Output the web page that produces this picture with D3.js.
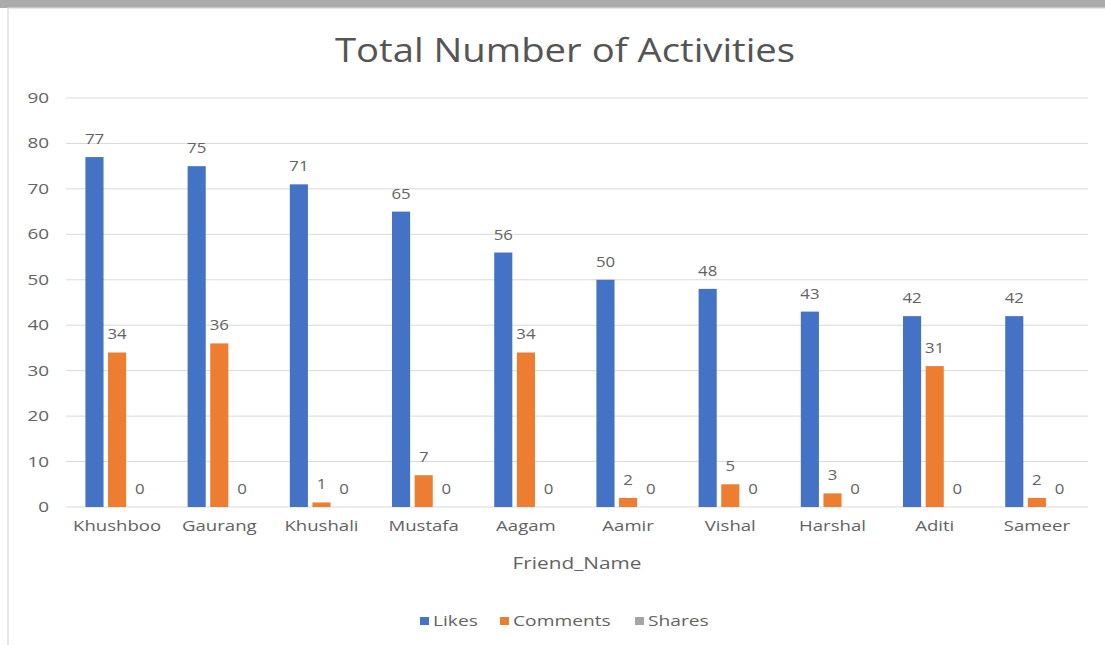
<!DOCTYPE html>
<html><head><meta charset="utf-8">
<script src="https://cdn.jsdelivr.net/npm/d3@7"></script>
<style>body{margin:0;background:#fff;}svg{display:block;}</style>
</head><body>
<svg id="c" width="1105" height="645"></svg>
<script>
const categories = ["Khushboo","Gaurang","Khushali","Mustafa","Aagam","Aamir","Vishal","Harshal","Aditi","Sameer"];
const likes = [77,75,71,65,56,50,48,43,42,42];
const comments = [34,36,1,7,34,2,5,3,31,2];
const shares = [0,0,0,0,0,0,0,0,0,0];
const seriesNames = ["Likes","Comments","Shares"];
const yTicks = [0,10,20,30,40,50,60,70,80,90];

const colors = ["#4472C4","#ED7D31","#A5A5A5"];
const txt = "#636363";
const font = "'Open Sans', sans-serif";
const SX = 1.25;
const svg = d3.select("#c");

function stext(parent, x, y, str, size, anchor, sx, color) {
  return parent.append("text")
    .attr("transform", `translate(${x},${y}) scale(${sx||SX},1)`)
    .attr("text-anchor", anchor || "start")
    .attr("fill", color || txt).style("font-family", font).style("font-size", size + "px")
    .text(str);
}

// top band (partial image above chart)
svg.append("rect").attr("x",0).attr("y",0).attr("width",1105).attr("height",8).attr("fill","#ababab");
svg.append("rect").attr("x",8).attr("y",8).attr("width",1200).attr("height",700).attr("fill","#fff").attr("stroke","#d9d9d9").attr("stroke-width",1.2);

const m = {l:66, r:1088, t:98, b:507};
const x = d3.scaleBand().domain(categories).range([m.l,m.r]).paddingInner(0.38).paddingOuter(0.19);
const xs = d3.scaleBand().domain(seriesNames).range([0,x.bandwidth()]).paddingInner(0.2);
const y = d3.scaleLinear().domain([0,90]).range([m.b,m.t]);

// gridlines
svg.append("g").selectAll("line").data(yTicks).join("line")
  .attr("x1",m.l).attr("x2",m.r).attr("y1",d=>y(d)).attr("y2",d=>y(d))
  .attr("stroke","#d9d9d9").attr("stroke-width",1);

// y axis labels
const yAxis = d3.axisLeft(y).tickValues(yTicks).tickSize(0).tickPadding(0);
const ya = svg.append("g").attr("transform",`translate(49,0)`).call(yAxis);
ya.select(".domain").remove();
ya.selectAll("text").attr("fill",txt).style("font-family",font).style("font-size","14px")
  .attr("transform",`scale(${1.35},1)`);

// x axis labels
const xAxis = d3.axisBottom(x).tickSize(0).tickPadding(0);
const xa = svg.append("g").attr("transform",`translate(0,${m.b+13})`).call(xAxis);
xa.select(".domain").remove();
xa.selectAll("text").attr("fill",txt).style("font-family",font).style("font-size","15px")
  .attr("transform",`scale(${1.24},1)`);

const data = [likes,comments,shares];
seriesNames.forEach((s,i)=>{
  const g = svg.append("g");
  g.selectAll("rect").data(categories).join("rect")
    .attr("x",c=>x(c)+xs(s)).attr("width",xs.bandwidth())
    .attr("y",(c,j)=>y(data[i][j])).attr("height",(c,j)=>y(0)-y(data[i][j]))
    .attr("fill",colors[i]);
  categories.forEach((c,j)=>{
    stext(g, x(c)+xs(s)+xs.bandwidth()/2, y(data[i][j])-13, data[i][j], 14, "middle", 1.2);
  });
});

// title
stext(svg, 565, 62, "Total Number of Activities", 33, "middle", 1.16, "#555555");

// axis title
stext(svg, 577, 569, "Friend_Name", 16, "middle", 1.3);

// legend
const legX = [420,500,635];
seriesNames.forEach((s,i)=>{
  svg.append("rect").attr("x",legX[i]).attr("y",617).attr("width",9).attr("height",8).attr("fill",colors[i]);
  stext(svg, legX[i]+13, 626, s, 15, "start", 1.28);
});
</script>
</body></html>
